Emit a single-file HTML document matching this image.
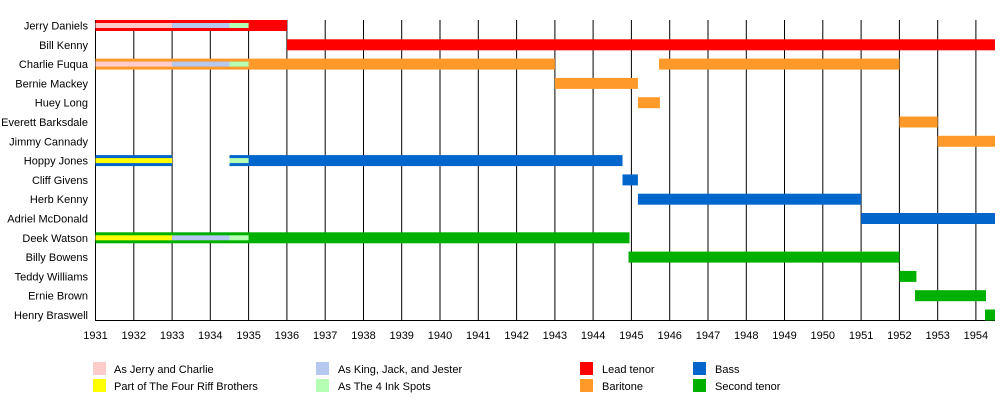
<!DOCTYPE html>
<html><head><meta charset="utf-8"><style>
html,body{margin:0;padding:0;background:#fff}
svg{display:block;font-family:"Liberation Sans",sans-serif;font-size:11px}
</style></head><body>
<svg width="1000" height="400" viewBox="0 0 1000 400">
<g stroke="#000" stroke-width="1">
<line x1="95.5" y1="20" x2="95.5" y2="320"/><line x1="133.8" y1="20" x2="133.8" y2="320"/><line x1="172.1" y1="20" x2="172.1" y2="320"/><line x1="210.3" y1="20" x2="210.3" y2="320"/><line x1="248.6" y1="20" x2="248.6" y2="320"/><line x1="286.9" y1="20" x2="286.9" y2="320"/><line x1="325.2" y1="20" x2="325.2" y2="320"/><line x1="363.5" y1="20" x2="363.5" y2="320"/><line x1="401.7" y1="20" x2="401.7" y2="320"/><line x1="440" y1="20" x2="440" y2="320"/><line x1="478.3" y1="20" x2="478.3" y2="320"/><line x1="516.6" y1="20" x2="516.6" y2="320"/><line x1="554.9" y1="20" x2="554.9" y2="320"/><line x1="593.1" y1="20" x2="593.1" y2="320"/><line x1="631.4" y1="20" x2="631.4" y2="320"/><line x1="669.7" y1="20" x2="669.7" y2="320"/><line x1="708" y1="20" x2="708" y2="320"/><line x1="746.3" y1="20" x2="746.3" y2="320"/><line x1="784.5" y1="20" x2="784.5" y2="320"/><line x1="822.8" y1="20" x2="822.8" y2="320"/><line x1="861.1" y1="20" x2="861.1" y2="320"/><line x1="899.4" y1="20" x2="899.4" y2="320"/><line x1="937.7" y1="20" x2="937.7" y2="320"/><line x1="975.9" y1="20" x2="975.9" y2="320"/>
<line x1="95" y1="320.5" x2="995" y2="320.5"/>
</g>
<g>
<!-- Jerry -->
<rect x="95.5" y="20" width="191.4" height="11" fill="#ff0000"/>
<rect x="95.5" y="23" width="76.6" height="5" fill="#ffcccc"/><rect x="172.1" y="23" width="57.4" height="5" fill="#b4c8f0"/><rect x="229.5" y="23" width="19.1" height="5" fill="#b4ffb4"/>
<!-- Bill -->
<rect x="286.9" y="39.3" width="708.1" height="11" fill="#ff0000"/>
<!-- Charlie -->
<rect x="95.5" y="58.6" width="459.4" height="11" fill="#ff9a2a"/><rect x="659" y="58.6" width="240.4" height="11" fill="#ff9a2a"/>
<rect x="95.5" y="61.6" width="76.6" height="5" fill="#ffcccc"/><rect x="172.1" y="61.6" width="57.4" height="5" fill="#b4c8f0"/><rect x="229.5" y="61.6" width="19.1" height="5" fill="#b4ffb4"/>
<!-- Bernie -->
<rect x="554.9" y="77.9" width="83" height="11" fill="#ff9a2a"/>
<rect x="637.9" y="97.2" width="22" height="11" fill="#ff9a2a"/>
<rect x="899.4" y="116.5" width="38.3" height="11" fill="#ff9a2a"/>
<rect x="937.7" y="135.8" width="57.3" height="11" fill="#ff9a2a"/>
<!-- Hoppy -->
<rect x="95.5" y="155.1" width="76.6" height="11" fill="#0066cc"/><rect x="229.5" y="155.1" width="393" height="11" fill="#0066cc"/>
<rect x="95.5" y="158.1" width="76.6" height="5" fill="#ffff00"/><rect x="229.5" y="158.1" width="19.1" height="5" fill="#b4ffb4"/>
<rect x="622.5" y="174.4" width="15.4" height="11" fill="#0066cc"/>
<rect x="637.9" y="193.7" width="223.2" height="11" fill="#0066cc"/>
<rect x="861.1" y="213" width="133.9" height="11" fill="#0066cc"/>
<!-- Deek -->
<rect x="95.5" y="232.3" width="534" height="11" fill="#00b000"/>
<rect x="95.5" y="235.3" width="76.6" height="5" fill="#ffff00"/><rect x="172.1" y="235.3" width="57.4" height="5" fill="#b4c8f0"/><rect x="229.5" y="235.3" width="19.1" height="5" fill="#b4ffb4"/>
<rect x="628.5" y="251.6" width="270.9" height="11" fill="#00b000"/>
<rect x="899.4" y="270.9" width="17" height="11" fill="#00b000"/>
<rect x="915" y="290.2" width="71" height="11" fill="#00b000"/>
<rect x="985" y="309.5" width="10" height="11" fill="#00b000"/>
</g>
<g text-anchor="end" fill="#000">
<text x="88" y="29.5">Jerry Daniels</text><text x="88" y="48.8">Bill Kenny</text><text x="88" y="68.1">Charlie Fuqua</text><text x="88" y="87.4">Bernie Mackey</text><text x="88" y="106.7">Huey Long</text><text x="88" y="126">Everett Barksdale</text><text x="88" y="145.3">Jimmy Cannady</text><text x="88" y="164.6">Hoppy Jones</text><text x="88" y="183.9">Cliff Givens</text><text x="88" y="203.2">Herb Kenny</text><text x="88" y="222.5">Adriel McDonald</text><text x="88" y="241.8">Deek Watson</text><text x="88" y="261.1">Billy Bowens</text><text x="88" y="280.4">Teddy Williams</text><text x="88" y="299.7">Ernie Brown</text><text x="88" y="319">Henry Braswell</text>
</g>
<g text-anchor="middle" fill="#000">
<text x="95.5" y="339">1931</text><text x="133.8" y="339">1932</text><text x="172.1" y="339">1933</text><text x="210.3" y="339">1934</text><text x="248.6" y="339">1935</text><text x="286.9" y="339">1936</text><text x="325.2" y="339">1937</text><text x="363.5" y="339">1938</text><text x="401.7" y="339">1939</text><text x="440" y="339">1940</text><text x="478.3" y="339">1941</text><text x="516.6" y="339">1942</text><text x="554.9" y="339">1943</text><text x="593.1" y="339">1944</text><text x="631.4" y="339">1945</text><text x="669.7" y="339">1946</text><text x="708" y="339">1947</text><text x="746.3" y="339">1948</text><text x="784.5" y="339">1949</text><text x="822.8" y="339">1950</text><text x="861.1" y="339">1951</text><text x="899.4" y="339">1952</text><text x="937.7" y="339">1953</text><text x="975.9" y="339">1954</text>
</g>
<g>
<rect x="93" y="362" width="13" height="13" fill="#ffcccc"/><text x="114" y="373">As Jerry and Charlie</text>
<rect x="93" y="379" width="13" height="13" fill="#ffff00"/><text x="114" y="390">Part of The Four Riff Brothers</text>
<rect x="316" y="362" width="13" height="13" fill="#b4c8f0"/><text x="338" y="373">As King, Jack, and Jester</text>
<rect x="316" y="379" width="13" height="13" fill="#b4ffb4"/><text x="338" y="390">As The 4 Ink Spots</text>
<rect x="580" y="362" width="13" height="13" fill="#ff0000"/><text x="602" y="373">Lead tenor</text>
<rect x="580" y="379" width="13" height="13" fill="#ff9a2a"/><text x="602" y="390">Baritone</text>
<rect x="693" y="362" width="13" height="13" fill="#0066cc"/><text x="715" y="373">Bass</text>
<rect x="693" y="379" width="13" height="13" fill="#00b000"/><text x="715" y="390">Second tenor</text>
</g>
</svg>
</body></html>
